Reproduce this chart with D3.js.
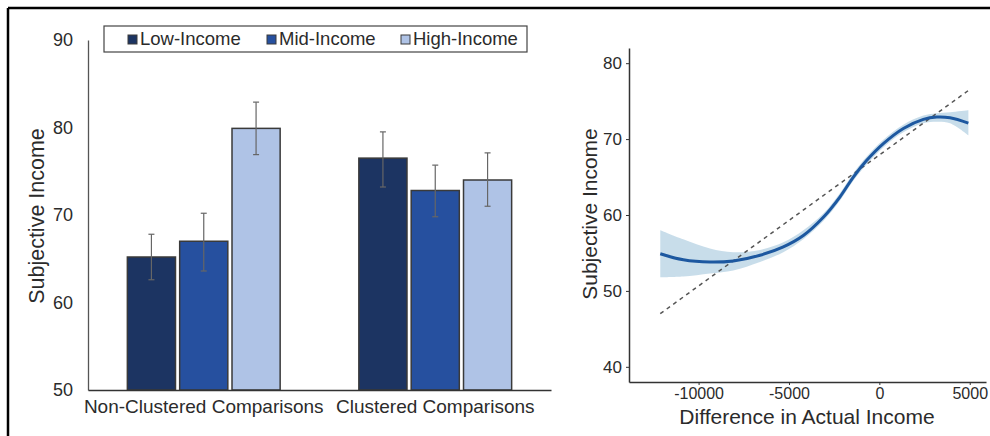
<!DOCTYPE html>
<html>
<head>
<meta charset="utf-8">
<script src="https://cdn.jsdelivr.net/npm/d3@7/dist/d3.min.js"></script>
<style>
  html, body { margin: 0; padding: 0; background: #fff; }
  svg { display: block; font-family: "Liberation Sans", Arial, Helvetica, sans-serif; }
</style>
</head>
<body>
<svg id="chart" width="990" height="436"></svg>
<script>
// ---- Bar panel data ----
const categories = ["Non-Clustered Comparisons", "Clustered Comparisons"];
const groups = ["Low-Income", "Mid-Income", "High-Income"];
const groupColors = ["#1c3462", "#26509f", "#afc3e6"];
const meanNonClustered = [65.2, 67.0, 79.9];
const meanClustered = [76.5, 72.8, 74.0];
const errLowNonClustered = [62.6, 63.6, 76.9];
const errHighNonClustered = [67.8, 70.2, 82.9];
const errLowClustered = [73.2, 69.8, 71.0];
const errHighClustered = [79.5, 75.7, 77.1];
const barTicks = [50, 60, 70, 80, 90];

// ---- Smooth-fit panel data ----
const fitX = [-12120, -10846, -9369, -8080, -6602, -5313, -4206, -3099, -2175, -1439, -697, 221, 1328, 2435, 3177, 3912, 4925];
const fitY = [54.9, 54.1, 53.8, 53.95, 54.7, 55.8, 57.3, 59.7, 62.4, 65.0, 67.2, 69.4, 71.4, 72.6, 72.9, 72.8, 72.1];
const fitLower = [51.8, 51.9, 52.3, 52.7, 53.8, 55.1, 56.8, 59.2, 61.9, 64.5, 66.7, 68.9, 70.9, 72.1, 72.3, 72.1, 70.5];
const fitUpper = [58.0, 56.8, 55.6, 55.1, 55.4, 56.4, 58.0, 60.2, 62.9, 65.5, 67.7, 69.9, 71.9, 73.1, 73.4, 73.55, 73.8];
const refLineX = [-12120, 4925];
const refLineY = [47.0, 76.4];
const fitXTicks = [-10000, -5000, 0, 5000];
const fitYTicks = [40, 50, 60, 70, 80];

const svg = d3.select("#chart");
const textColor = "#2b2b2b";

// Outer frame (top and left rules)
svg.append("line").attr("x1", 8).attr("x2", 990).attr("y1", 8).attr("y2", 8)
  .attr("stroke", "#000").attr("stroke-width", 2.5);
svg.append("line").attr("x1", 8).attr("x2", 8).attr("y1", 8).attr("y2", 436)
  .attr("stroke", "#000").attr("stroke-width", 2.5);

// ================= Bar panel =================
const barRows = [
  { cat: categories[0], mean: meanNonClustered, lo: errLowNonClustered, hi: errHighNonClustered },
  { cat: categories[1], mean: meanClustered, lo: errLowClustered, hi: errHighClustered }
];

const x0 = d3.scaleBand().domain(categories).range([88, 551]).paddingInner(0.34).paddingOuter(0.17);
const x1 = d3.scaleBand().domain(groups).range([0, x0.bandwidth()]).paddingInner(0.08);
const yBar = d3.scaleLinear().domain([50, 90]).range([390, 40]);

const barG = svg.append("g");

barRows.forEach(row => {
  const g = barG.append("g").attr("transform", `translate(${x0(row.cat)},0)`);
  g.selectAll("rect").data(groups).join("rect")
    .attr("x", d => x1(d))
    .attr("width", x1.bandwidth())
    .attr("y", (d, i) => yBar(row.mean[i]))
    .attr("height", (d, i) => yBar(50) - yBar(row.mean[i]))
    .attr("fill", (d, i) => groupColors[i])
    .attr("stroke", "#3a3a3a").attr("stroke-width", 1.5);
  const eb = g.selectAll("g.err").data(groups).join("g").attr("class", "err")
    .attr("stroke", "#666").attr("stroke-width", 1.2);
  eb.append("line")
    .attr("x1", d => x1(d) + x1.bandwidth() / 2).attr("x2", d => x1(d) + x1.bandwidth() / 2)
    .attr("y1", (d, i) => yBar(row.lo[i])).attr("y2", (d, i) => yBar(row.hi[i]));
  eb.append("line")
    .attr("x1", d => x1(d) + x1.bandwidth() / 2 - 3).attr("x2", d => x1(d) + x1.bandwidth() / 2 + 3)
    .attr("y1", (d, i) => yBar(row.hi[i])).attr("y2", (d, i) => yBar(row.hi[i]));
  eb.append("line")
    .attr("x1", d => x1(d) + x1.bandwidth() / 2 - 3).attr("x2", d => x1(d) + x1.bandwidth() / 2 + 3)
    .attr("y1", (d, i) => yBar(row.lo[i])).attr("y2", (d, i) => yBar(row.lo[i]));
});

// Bar panel axes
const barYAxis = svg.append("g").attr("transform", "translate(88,0)")
  .call(d3.axisLeft(yBar).tickValues(barTicks).tickSize(0).tickPadding(15));
barYAxis.select(".domain").attr("stroke", "#555").attr("stroke-width", 1.3);
barYAxis.selectAll("text").attr("font-size", 18).attr("fill", textColor).attr("font-family", null);

const barXAxis = svg.append("g").attr("transform", "translate(0,390)")
  .call(d3.axisBottom(x0).tickSize(0).tickSizeOuter(0).tickPadding(10));
barXAxis.select(".domain").attr("stroke", "#333").attr("stroke-width", 1.5);
barXAxis.selectAll("text").attr("font-size", 19).attr("fill", textColor).attr("font-family", null);

svg.append("text")
  .attr("transform", "translate(36,216) rotate(-90)")
  .attr("text-anchor", "middle").attr("dy", "0.35em")
  .attr("font-size", 21.5).attr("fill", textColor)
  .text("Subjective Income");

// Legend
const legend = svg.append("g");
legend.append("rect").attr("x", 104).attr("y", 26).attr("width", 423).attr("height", 26)
  .attr("fill", "#fff").attr("stroke", "#444").attr("stroke-width", 1.2);
const legendX = [128, 267, 401];
groups.forEach((gName, i) => {
  legend.append("rect").attr("x", legendX[i]).attr("y", 35).attr("width", 9).attr("height", 9)
    .attr("fill", groupColors[i]).attr("stroke", "#3a3a3a").attr("stroke-width", 1);
  legend.append("text").attr("x", legendX[i] + 12).attr("y", 39).attr("dy", "0.35em")
    .attr("font-size", 18.5).attr("fill", textColor).text(gName);
});

// ================= Smooth-fit panel =================
const xFit = d3.scaleLinear().domain([-13850, 5900]).range([629, 986]);
const yFit = d3.scaleLinear().domain([38, 82]).range([382, 48]);

const fitPts = fitX.map((x, i) => ({ x, y: fitY[i], lo: fitLower[i], hi: fitUpper[i] }));

svg.append("path").datum(fitPts)
  .attr("fill", "#c5dbe9").attr("opacity", 0.95)
  .attr("d", d3.area().x(d => xFit(d.x)).y0(d => yFit(d.lo)).y1(d => yFit(d.hi)).curve(d3.curveCatmullRom));

svg.append("line")
  .attr("x1", xFit(refLineX[0])).attr("y1", yFit(refLineY[0]))
  .attr("x2", xFit(refLineX[1])).attr("y2", yFit(refLineY[1]))
  .attr("stroke", "#555").attr("stroke-width", 1.5).attr("stroke-dasharray", "4,4");

svg.append("path").datum(fitPts)
  .attr("fill", "none").attr("stroke", "#1d58a0").attr("stroke-width", 3)
  .attr("d", d3.line().x(d => xFit(d.x)).y(d => yFit(d.y)).curve(d3.curveCatmullRom));

const fmtInt = d3.formatLocale({ decimal: ".", thousands: ",", grouping: [3], currency: ["", ""], minus: "-" }).format("d");

const fitYAxis = svg.append("g").attr("transform", "translate(629,0)")
  .call(d3.axisLeft(yFit).tickValues(fitYTicks).tickSize(3).tickSizeOuter(0).tickPadding(4));
fitYAxis.select(".domain").attr("stroke", "#333").attr("stroke-width", 1.5);
fitYAxis.selectAll(".tick line").attr("stroke", "#333");
fitYAxis.selectAll("text").attr("font-size", 17).attr("fill", textColor).attr("font-family", null);

const fitXAxis = svg.append("g").attr("transform", "translate(0,382)")
  .call(d3.axisBottom(xFit).tickValues(fitXTicks).tickFormat(fmtInt).tickSize(3).tickSizeOuter(0).tickPadding(3));
fitXAxis.select(".domain").attr("stroke", "#333").attr("stroke-width", 1.5);
fitXAxis.selectAll(".tick line").attr("stroke", "#333");
fitXAxis.selectAll("text").attr("font-size", 16).attr("fill", textColor).attr("font-family", null);

svg.append("text")
  .attr("x", 807).attr("y", 424)
  .attr("text-anchor", "middle")
  .attr("font-size", 21).attr("fill", textColor)
  .text("Difference in Actual Income");

svg.append("text")
  .attr("transform", "translate(590,214) rotate(-90)")
  .attr("text-anchor", "middle").attr("dy", "0.35em")
  .attr("font-size", 21).attr("fill", textColor)
  .text("Subjective Income");
</script>
</body>
</html>
